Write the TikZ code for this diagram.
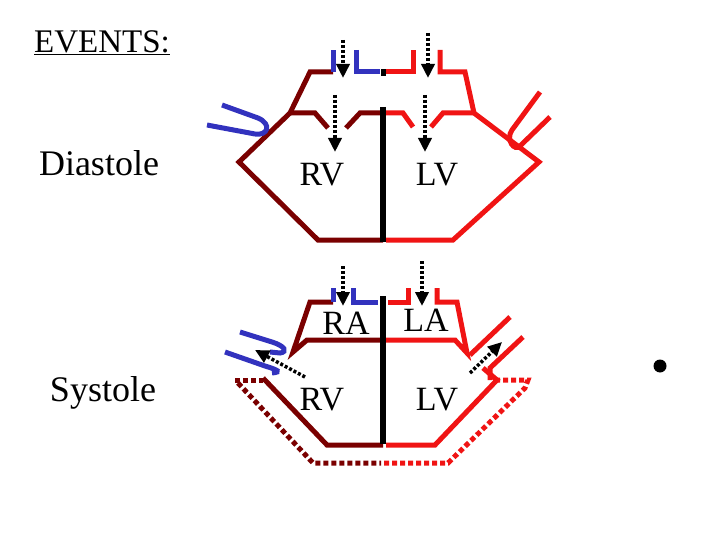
\documentclass[tikz,border=0pt]{standalone}
\usepackage{fontspec}
\setmainfont{Liberation Serif}
\usetikzlibrary{arrows.meta}
\definecolor{dr}{RGB}{122,0,0}
\definecolor{rr}{RGB}{240,20,20}
\definecolor{bb}{RGB}{50,50,190}
\tikzset{
 w/.style={line width=5pt,line join=miter},
 drl/.style={w,draw=dr},
 rdl/.style={w,draw=rr},
 bl/.style={w,draw=bb},
 sep/.style={line width=5.5pt,draw=black},
 flow/.style={line width=3.5pt,dash pattern=on 3pt off 2pt,-{Triangle[width=13pt,length=14pt]}},
 expd/.style={line width=5pt,dash pattern=on 5pt off 3pt},
 lab/.style={font=\fontsize{34}{36}\selectfont},
 ttl/.style={font=\fontsize{36}{38}\selectfont,anchor=center}
}
\begin{document}
\begin{tikzpicture}[x=1pt,y=-1pt]
\useasboundingbox (0,0) rectangle (720,540);
\node[font=\fontsize{33}{35}\selectfont] (ev) at (102,43) {\underline{EVENTS:}};
\node[ttl] (dia) at (99,163) {Diastole};
\node[ttl] (sys) at (103,393) {Systole};
\fill (660,366) circle (6.5);
% ---------- top heart
\draw[drl] (333,72) -- (310,72) -- (290,113) -- (239,162) -- (318,240) -- (383,240);
\draw[drl] (290,113) -- (315,113) -- (328,128);
\draw[drl] (346,128) -- (360,113) -- (383,113);
\draw[bl] (333,72) -- (333,50);
\draw[bl] (356,50) -- (356,72) -- (380,72);
\fill (380.5,69) rectangle (385.5,76);
\draw[rdl] (386,72) -- (413,72) -- (413,50);
\draw[rdl] (440,50) -- (440,72) -- (465,72) -- (474,113) -- (539,162) -- (453,240) -- (386,240);
\draw[rdl] (386,113) -- (403,113) -- (413,127);
\draw[rdl] (431,127) -- (443,113) -- (474,113);
\draw[sep] (383,107) -- (383,242);
\draw[bl] (222,105) -- (258,118) .. controls (272,124) and (268,136) .. (255,134) -- (207,125);
\draw[rdl] (540,92) -- (512,130) .. controls (505,140) and (515,152) .. (520,146) -- (550,117);
\node[lab] (rv1) at (322,175) {RV};
\node[lab] (lv1) at (437,175) {LV};
\coordinate (a1s) at (343,40); \coordinate (a1e) at (343,78);
\coordinate (a2s) at (428,33); \coordinate (a2e) at (428,78);
\coordinate (a3s) at (335,95); \coordinate (a3e) at (335,152);
\coordinate (a4s) at (425,95); \coordinate (a4e) at (425,152);
\draw[flow] (a1s) -- (a1e);
\draw[flow] (a2s) -- (a2e);
\draw[flow] (a3s) -- (a3e);
\draw[flow] (a4s) -- (a4e);
% ---------- bottom heart
\draw[expd,draw=dr] (235,380) -- (263,380);
\draw[expd,draw=dr] (238,383) -- (313,463) -- (381,463);
\draw[expd,draw=rr] (384,463) -- (448,463) -- (525,388) -- (528,380) -- (497,380);
\draw[drl] (333,302) -- (310,302) -- (293,352) -- (307,340) -- (383,340);
\draw[drl] (263,378) -- (327,445) -- (383,445);
\draw[bl] (333,302) -- (333,288);
\draw[bl] (353,288) -- (353,302) -- (378,302);
\draw[rdl] (388,302) -- (408,302) -- (408,288);
\draw[rdl] (437,288) -- (437,302) -- (457,302) -- (467,353) -- (455,340) -- (386,340);
\draw[rdl] (386,445) -- (435,445) -- (497,380) -- (483,368);
\draw[rdl] (510,317) -- (470,355);
\draw[rdl] (523,337) -- (490,368) -- (490,380);
\draw[sep] (383,296) -- (383,444);
\draw[bl] (240,332) -- (272,342) .. controls (285,346) and (288,352) .. (280,353) -- (270,352);
\draw[bl] (225,352) -- (265,366) .. controls (278,370) and (282,372) .. (272,373);
\node[lab] (ra) at (346,323) {RA};
\node[lab] (la) at (426,320) {LA};
\node[lab] (rv2) at (322,400) {RV};
\node[lab] (lv2) at (437,400) {LV};
\coordinate (b1s) at (343,266); \coordinate (b1e) at (343,306);
\coordinate (b2s) at (422,261); \coordinate (b2e) at (422,306);
\coordinate (b3s) at (305,377); \coordinate (b3e) at (255,350);
\coordinate (b4s) at (470,373); \coordinate (b4e) at (502,342);
\draw[flow] (b1s) -- (b1e);
\draw[flow] (b2s) -- (b2e);
\draw[flow] (b3s) -- (b3e);
\draw[flow] (b4s) -- (b4e);
\end{tikzpicture}
\end{document}
